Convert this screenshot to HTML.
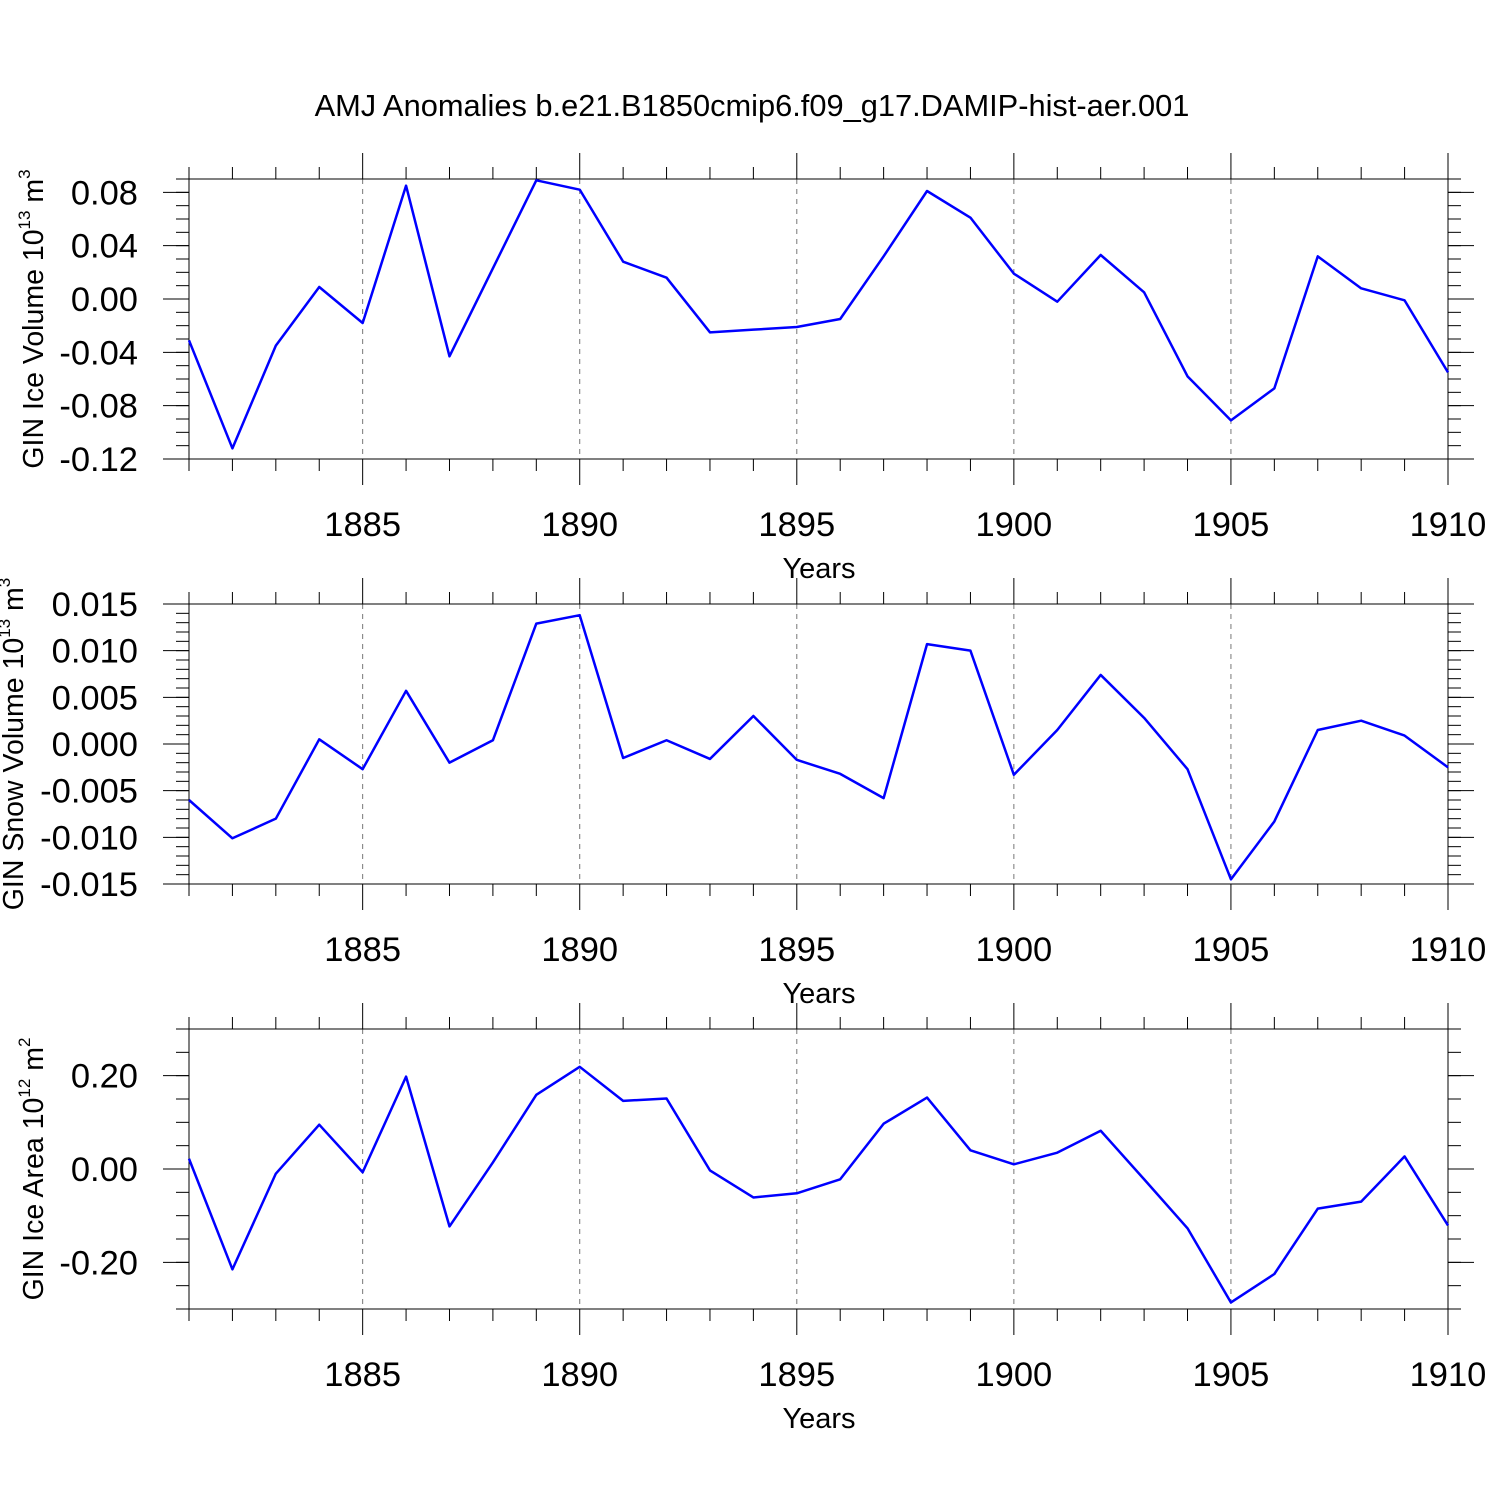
<!DOCTYPE html>
<html><head><meta charset="utf-8"><style>body{margin:0;background:#fff}svg{display:block}</style></head>
<body>
<svg id="c" width="1500" height="1500" xmlns="http://www.w3.org/2000/svg" font-family="Liberation Sans, sans-serif">
<text x="752" y="116" font-size="30.8" text-anchor="middle">AMJ Anomalies b.e21.B1850cmip6.f09_g17.DAMIP-hist-aer.001</text>
</svg>
<script>
const years = [];
for (let y = 1881; y <= 1910; y++) years.push(y);
const iceVolume = [-0.031,-0.112,-0.035,0.009,-0.018,0.085,-0.043,0.023,0.089,0.082,0.028,0.016,-0.025,-0.023,-0.021,-0.015,0.032,0.081,0.061,0.019,-0.002,0.033,0.005,-0.058,-0.091,-0.067,0.032,0.008,-0.001,-0.055];
const snowVolume = [-0.006,-0.0101,-0.008,0.0005,-0.0027,0.0057,-0.002,0.0004,0.0129,0.0138,-0.0015,0.0004,-0.0016,0.003,-0.0017,-0.0032,-0.0058,0.0107,0.01,-0.0033,0.0015,0.0074,0.0028,-0.0027,-0.0145,-0.0083,0.0015,0.0025,0.0009,-0.0025];
const iceArea = [0.022,-0.215,-0.01,0.095,-0.007,0.198,-0.123,0.014,0.159,0.219,0.146,0.151,-0.003,-0.061,-0.052,-0.022,0.097,0.153,0.04,0.01,0.035,0.082,-0.022,-0.127,-0.286,-0.225,-0.085,-0.07,0.027,-0.121];
const xTickYears = [1885,1890,1895,1900,1905,1910];
const iceVolTicks = ["-0.12","-0.08","-0.04","0.00","0.04","0.08"];
const snowTicks = ["-0.015","-0.010","-0.005","0.000","0.005","0.010","0.015"];
const areaTicks = ["-0.20","0.00","0.20"];

const svg = document.getElementById('c');
const NS = 'http://www.w3.org/2000/svg';
function mk(tag, attrs, parent){const e=document.createElementNS(NS,tag);for(const k in attrs)e.setAttribute(k,attrs[k]);(parent||svg).appendChild(e);return e;}
const X0=189, X1=1448, Y0=1881, Y1=1910;
const xs = v => X0 + (v-Y0)/(Y1-Y0)*(X1-X0);

function panel(name, top, ymin, ymax, data, ticks, minorStep, titleMain, exp, unit, titleX){
  const bot = top+280;
  const ys = v => bot - (v-ymin)/(ymax-ymin)*280;
  const g = mk('g',{});
  
  
  xTickYears.forEach(yr=>{ if(yr<Y1){const l=mk('line',{x1:xs(yr),x2:xs(yr),y1:top,y2:bot,stroke:'#777','stroke-width':1,'stroke-dasharray':'5,5'},g);
    
    }});
  years.forEach(yr=>{const len=(yr%5===0)?26:12;
    mk('line',{x1:xs(yr),x2:xs(yr),y1:top,y2:top-len,stroke:'#000','stroke-width':1},g);
    mk('line',{x1:xs(yr),x2:xs(yr),y1:bot,y2:bot+len,stroke:'#000','stroke-width':1},g);});
  xTickYears.forEach(yr=>{const t=mk('text',{x:xs(yr),y:bot+77,'font-size':34.5,'text-anchor':'middle'},g);t.textContent=yr;
    
    });
  const xt=mk('text',{x:819,y:bot+119,'font-size':29,'text-anchor':'middle'},g);xt.textContent='Years';
  
  
  for(let v=ymin; v<=ymax+1e-9; v+=minorStep){const y=ys(v);
    mk('line',{x1:X0,x2:X0-13,y1:y,y2:y,stroke:'#000','stroke-width':1},g);
    mk('line',{x1:X1,x2:X1+13,y1:y,y2:y,stroke:'#000','stroke-width':1},g);}
  ticks.forEach(s=>{const y=ys(parseFloat(s));
    mk('line',{x1:X0,x2:X0-26,y1:y,y2:y,stroke:'#000','stroke-width':1},g);
    mk('line',{x1:X1,x2:X1+26,y1:y,y2:y,stroke:'#000','stroke-width':1},g);
    const t=mk('text',{x:138,y:y+12,'font-size':34.5,'text-anchor':'end'},g);t.textContent=s;
    
    });
  mk('rect',{x:X0,y:top,width:X1-X0,height:280,fill:'none',stroke:'#000','stroke-width':1},g);
  const yt=mk('text',{transform:`translate(${titleX},${top+140}) rotate(-90)`,'font-size':28.5,'text-anchor':'middle'},g);
  
  
  yt.innerHTML=titleMain+' 10<tspan font-size="17" dy="-13">'+exp+'</tspan><tspan dy="13"> m</tspan><tspan font-size="17" dy="-13">'+unit+'</tspan>';
  const p=mk('polyline',{points:data.map((v,i)=>xs(years[i])+','+ys(v)).join(' '),fill:'none',stroke:'#0000ff','stroke-width':2.5,'stroke-linejoin':'round'},g);
  
  
}
panel('ice-volume',179,-0.12,0.09,iceVolume,iceVolTicks,0.01,'GIN Ice Volume','13','3',43);
panel('snow-volume',604,-0.015,0.015,snowVolume,snowTicks,0.001,'GIN Snow Volume','13','3',23);
panel('ice-area',1029,-0.3,0.3,iceArea,areaTicks,0.05,'GIN Ice Area','12','2',43);
</script>
</body></html>
